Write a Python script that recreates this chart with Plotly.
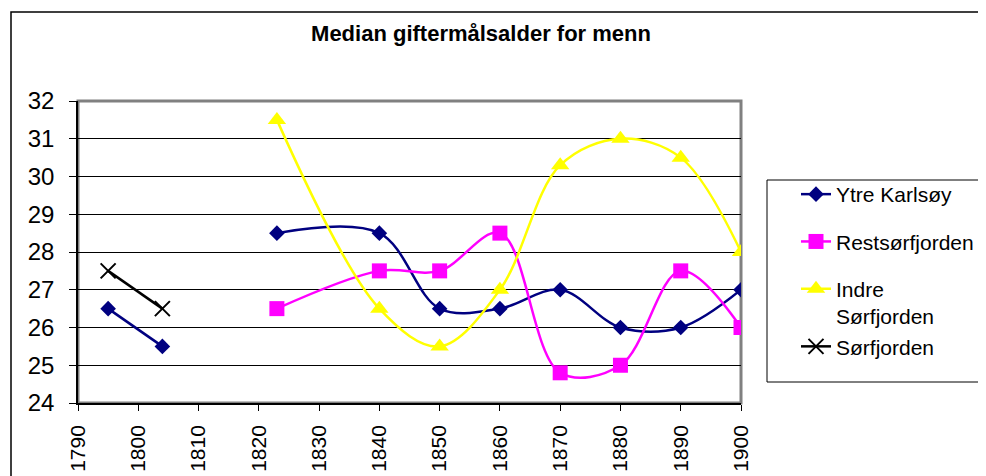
import plotly.graph_objects as go

# ---- data ----
years = [1795, 1804, None, 1823, 1840, 1850, 1860, 1870, 1880, 1890, 1900]
ytre_karlsoy = [26.5, 25.5, None, 28.5, 28.5, 26.5, 26.5, 27.0, 26.0, 26.0, 27.0]
restsorfjorden = [None, None, None, 26.5, 27.5, 27.5, 28.5, 24.8, 25.0, 27.5, 26.0]
indre_sorfjorden = [None, None, None, 31.5, 26.5, 25.5, 27.0, 30.3, 31.0, 30.5, 28.0]
sorfjorden = [27.5, 26.5, None, None, None, None, None, None, None, None, None]

x_ticks = [1790, 1800, 1810, 1820, 1830, 1840, 1850, 1860, 1870, 1880, 1890, 1900]
y_ticks = [24, 25, 26, 27, 28, 29, 30, 31, 32]

FONT = "Liberation Sans, Arial, sans-serif"

# page body has an 8px margin, so layout pixel targets are offset by it
OFF = 8
W, H = 986, 476
PL, PR, PT, PB = 78 - OFF, 741 - OFF, 101 - OFF, 403 - OFF  # plot area in figure px
PW, PH = PR - PL, PB - PT


def px_x(x):
    return (x - OFF - PL) / PW


def px_y(y):
    return (PB - (y - OFF)) / PH


fig = go.Figure()

fig.add_trace(go.Scatter(
    x=years, y=ytre_karlsoy, name="Ytre Karlsøy", mode="lines+markers",
    line=dict(color="#000080", width=2.5, shape="spline", smoothing=1),
    marker=dict(symbol="diamond", size=12, color="#000080"),
    connectgaps=False, legendgroup="g1"))
fig.add_trace(go.Scatter(
    x=years, y=restsorfjorden, name="Restsørfjorden", mode="lines+markers",
    line=dict(color="#FF00FF", width=2.5, shape="spline", smoothing=1),
    marker=dict(symbol="square", size=15, color="#FF00FF"),
    connectgaps=False, legendgroup="g2"))
fig.add_trace(go.Scatter(
    x=years, y=indre_sorfjorden, name="Indre<br>Sørfjorden", mode="lines+markers",
    line=dict(color="#FFFF00", width=2.5, shape="spline", smoothing=1),
    marker=dict(symbol="triangle-up", size=16, color="#FFFF00"),
    connectgaps=False, legendgroup="g3"))
fig.add_trace(go.Scatter(
    x=years, y=sorfjorden, name="Sørfjorden", mode="lines+markers",
    line=dict(color="#000000", width=2.5, shape="spline", smoothing=1),
    marker=dict(symbol="x-thin", size=15, color="#000000",
                line=dict(color="#000000", width=2)),
    connectgaps=False, legendgroup="g3"))

# plot-area border (grey)
fig.add_shape(type="rect", xref="paper", yref="paper", x0=0, x1=1, y0=0, y1=1,
              line=dict(color="#808080", width=3), layer="below")
# chart-area border
fig.add_shape(type="rect", xref="paper", yref="paper",
              x0=px_x(11), x1=1.6, y0=-0.6, y1=px_y(12),
              line=dict(color="#000000", width=1.5), layer="below")
# legend box
fig.add_shape(type="rect", xref="paper", yref="paper",
              x0=px_x(767), x1=px_x(980), y0=px_y(382), y1=px_y(180),
              line=dict(color="#000000", width=1), fillcolor="white", layer="below")

fig.update_layout(
    width=W, height=H,
    margin=dict(l=PL, r=W - PR, t=PT, b=H - PB, autoexpand=False),
    paper_bgcolor="white", plot_bgcolor="white",
    font=dict(family=FONT, color="black"),
    title=dict(text="<b>Median giftermålsalder for menn</b>",
               font=dict(family=FONT, size=22, color="black"),
               x=(481 - OFF) / W, xref="container", xanchor="center",
               y=1 - (33 - OFF) / H, yref="container", yanchor="middle"),
    showlegend=True,
    legend=dict(
        x=px_x(796), xanchor="left", y=px_y(174), yanchor="top",
        bgcolor="rgba(0,0,0,0)", borderwidth=0,
        font=dict(family=FONT, size=21, color="black"),
        tracegroupgap=17, valign="top",
        traceorder="grouped"),
    xaxis=dict(
        range=[1790, 1900], tickmode="array", tickvals=x_ticks,
        ticktext=[str(v) for v in x_ticks], tickangle=-90,
        ticks="outside", ticklen=6, tickcolor="black", tickwidth=1,
        ticklabelstandoff=6,
        showline=True, linecolor="black", linewidth=1.5,
        showgrid=False, zeroline=False, automargin=False,
        tickfont=dict(family=FONT, size=21, color="black")),
    yaxis=dict(
        range=[24, 32], tickmode="array", tickvals=y_ticks,
        ticks="outside", ticklen=7, tickcolor="black", tickwidth=1,
        ticklabelstandoff=10,
        showline=True, linecolor="black", linewidth=1.5,
        showgrid=True, gridcolor="black", gridwidth=1,
        zeroline=False, automargin=False,
        tickfont=dict(family=FONT, size=24, color="black")),
)

fig.write_html("out.html")
